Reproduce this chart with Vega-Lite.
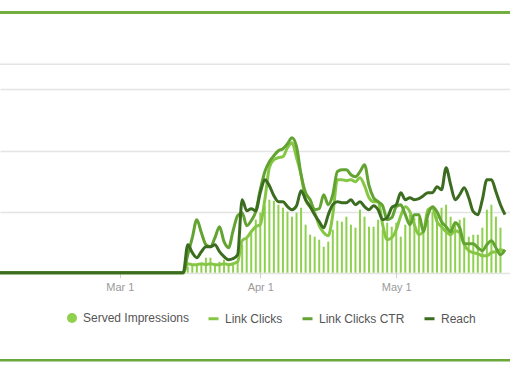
{
  "$schema": "https://vega.github.io/schema/vega-lite/v6.json",
  "width": 510,
  "height": 382,
  "padding": 0,
  "autosize": {"type": "none"},
  "background": "white",
  "config": {
    "view": {"stroke": null},
    "font": "Liberation Sans",
    "axisY": {
      "labels": false,
      "ticks": false,
      "domain": false,
      "grid": true,
      "gridColor": "#e4e4e4",
      "gridWidth": 1.5
    },
    "axisX": {
      "domain": false,
      "grid": false,
      "tickColor": "#d0d0d0",
      "tickSize": 5,
      "labelColor": "#9a9a9a",
      "labelFontSize": 11,
      "labelFont": "Liberation Sans",
      "labelPadding": 4
    }
  },
  "datasets": {
    "metrics": [
      {"date": "2016-02-01", "Served Impressions": null, "Link Clicks": 0, "Link Clicks CTR": 0, "Reach": 0},
      {"date": "2016-03-15", "Served Impressions": 0, "Link Clicks": 0, "Link Clicks CTR": 0, "Reach": 0},
      {"date": "2016-03-16", "Served Impressions": 6, "Link Clicks": 9, "Link Clicks CTR": 18, "Reach": 28},
      {"date": "2016-03-17", "Served Impressions": 7, "Link Clicks": 8, "Link Clicks CTR": 35, "Reach": 20},
      {"date": "2016-03-18", "Served Impressions": 8, "Link Clicks": 8, "Link Clicks CTR": 53, "Reach": 15},
      {"date": "2016-03-19", "Served Impressions": 9, "Link Clicks": 9, "Link Clicks CTR": 40, "Reach": 21},
      {"date": "2016-03-20", "Served Impressions": 15, "Link Clicks": 8, "Link Clicks CTR": 28, "Reach": 26},
      {"date": "2016-03-21", "Served Impressions": 15, "Link Clicks": 9, "Link Clicks CTR": 26, "Reach": 26},
      {"date": "2016-03-22", "Served Impressions": 9, "Link Clicks": 8, "Link Clicks CTR": 35, "Reach": 28},
      {"date": "2016-03-23", "Served Impressions": 11, "Link Clicks": 8, "Link Clicks CTR": 46, "Reach": 21},
      {"date": "2016-03-24", "Served Impressions": 13, "Link Clicks": 9, "Link Clicks CTR": 31, "Reach": 16},
      {"date": "2016-03-25", "Served Impressions": 9, "Link Clicks": 8, "Link Clicks CTR": 25, "Reach": 13},
      {"date": "2016-03-26", "Served Impressions": 9, "Link Clicks": 9, "Link Clicks CTR": 42, "Reach": 14},
      {"date": "2016-03-27", "Served Impressions": 11, "Link Clicks": 11, "Link Clicks CTR": 57, "Reach": 18},
      {"date": "2016-03-28", "Served Impressions": 28, "Link Clicks": 32, "Link Clicks CTR": 60, "Reach": 73},
      {"date": "2016-03-29", "Served Impressions": 35, "Link Clicks": 35, "Link Clicks CTR": 47, "Reach": 62},
      {"date": "2016-03-30", "Served Impressions": 40, "Link Clicks": 41, "Link Clicks CTR": 52, "Reach": 64},
      {"date": "2016-03-31", "Served Impressions": 53, "Link Clicks": 46, "Link Clicks CTR": 61, "Reach": 62},
      {"date": "2016-04-01", "Served Impressions": 60, "Link Clicks": 48, "Link Clicks CTR": 83, "Reach": 80},
      {"date": "2016-04-02", "Served Impressions": 67, "Link Clicks": 73, "Link Clicks CTR": 101, "Reach": 93},
      {"date": "2016-04-03", "Served Impressions": 73, "Link Clicks": 105, "Link Clicks CTR": 111, "Reach": 87},
      {"date": "2016-04-04", "Served Impressions": 72, "Link Clicks": 113, "Link Clicks CTR": 117, "Reach": 77},
      {"date": "2016-04-05", "Served Impressions": 68, "Link Clicks": 115, "Link Clicks CTR": 122, "Reach": 71},
      {"date": "2016-04-06", "Served Impressions": 65, "Link Clicks": 116, "Link Clicks CTR": 124, "Reach": 71},
      {"date": "2016-04-07", "Served Impressions": 61, "Link Clicks": 125, "Link Clicks CTR": 129, "Reach": 66},
      {"date": "2016-04-08", "Served Impressions": 56, "Link Clicks": 130, "Link Clicks CTR": 135, "Reach": 63},
      {"date": "2016-04-09", "Served Impressions": 60, "Link Clicks": 115, "Link Clicks CTR": 126, "Reach": 67},
      {"date": "2016-04-10", "Served Impressions": 65, "Link Clicks": 98, "Link Clicks CTR": 98, "Reach": 82},
      {"date": "2016-04-11", "Served Impressions": 48, "Link Clicks": 73, "Link Clicks CTR": 80, "Reach": 73},
      {"date": "2016-04-12", "Served Impressions": 38, "Link Clicks": 66, "Link Clicks CTR": 73, "Reach": 66},
      {"date": "2016-04-13", "Served Impressions": 36, "Link Clicks": 60, "Link Clicks CTR": 63, "Reach": 58},
      {"date": "2016-04-14", "Served Impressions": 33, "Link Clicks": 47, "Link Clicks CTR": 64, "Reach": 51},
      {"date": "2016-04-15", "Served Impressions": 26, "Link Clicks": 40, "Link Clicks CTR": 78, "Reach": 45},
      {"date": "2016-04-16", "Served Impressions": 31, "Link Clicks": 37, "Link Clicks CTR": 68, "Reach": 58},
      {"date": "2016-04-17", "Served Impressions": 43, "Link Clicks": 58, "Link Clicks CTR": 78, "Reach": 68},
      {"date": "2016-04-18", "Served Impressions": 52, "Link Clicks": 93, "Link Clicks CTR": 101, "Reach": 71},
      {"date": "2016-04-19", "Served Impressions": 51, "Link Clicks": 93, "Link Clicks CTR": 103, "Reach": 70},
      {"date": "2016-04-20", "Served Impressions": 56, "Link Clicks": 92, "Link Clicks CTR": 103, "Reach": 70},
      {"date": "2016-04-21", "Served Impressions": 48, "Link Clicks": 93, "Link Clicks CTR": 98, "Reach": 73},
      {"date": "2016-04-22", "Served Impressions": 45, "Link Clicks": 91, "Link Clicks CTR": 96, "Reach": 68},
      {"date": "2016-04-23", "Served Impressions": 63, "Link Clicks": 95, "Link Clicks CTR": 101, "Reach": 71},
      {"date": "2016-04-24", "Served Impressions": 56, "Link Clicks": 87, "Link Clicks CTR": 108, "Reach": 66},
      {"date": "2016-04-25", "Served Impressions": 46, "Link Clicks": 75, "Link Clicks CTR": 87, "Reach": 63},
      {"date": "2016-04-26", "Served Impressions": 46, "Link Clicks": 71, "Link Clicks CTR": 75, "Reach": 67},
      {"date": "2016-04-27", "Served Impressions": 53, "Link Clicks": 71, "Link Clicks CTR": 71, "Reach": 63},
      {"date": "2016-04-28", "Served Impressions": 43, "Link Clicks": 48, "Link Clicks CTR": 67, "Reach": 53},
      {"date": "2016-04-29", "Served Impressions": 50, "Link Clicks": 33, "Link Clicks CTR": 53, "Reach": 55},
      {"date": "2016-04-30", "Served Impressions": 46, "Link Clicks": 35, "Link Clicks CTR": 55, "Reach": 65},
      {"date": "2016-05-01", "Served Impressions": 50, "Link Clicks": 43, "Link Clicks CTR": 66, "Reach": 68},
      {"date": "2016-05-02", "Served Impressions": 36, "Link Clicks": 57, "Link Clicks CTR": 68, "Reach": 80},
      {"date": "2016-05-03", "Served Impressions": 48, "Link Clicks": 66, "Link Clicks CTR": 58, "Reach": 73},
      {"date": "2016-05-04", "Served Impressions": 58, "Link Clicks": 61, "Link Clicks CTR": 48, "Reach": 75},
      {"date": "2016-05-05", "Served Impressions": 55, "Link Clicks": 48, "Link Clicks CTR": 58, "Reach": 73},
      {"date": "2016-05-06", "Served Impressions": 55, "Link Clicks": 38, "Link Clicks CTR": 58, "Reach": 74},
      {"date": "2016-05-07", "Served Impressions": 43, "Link Clicks": 41, "Link Clicks CTR": 41, "Reach": 77},
      {"date": "2016-05-08", "Served Impressions": 53, "Link Clicks": 63, "Link Clicks CTR": 58, "Reach": 80},
      {"date": "2016-05-09", "Served Impressions": 61, "Link Clicks": 65, "Link Clicks CTR": 66, "Reach": 80},
      {"date": "2016-05-10", "Served Impressions": 56, "Link Clicks": 51, "Link Clicks CTR": 61, "Reach": 86},
      {"date": "2016-05-11", "Served Impressions": 65, "Link Clicks": 46, "Link Clicks CTR": 51, "Reach": 83},
      {"date": "2016-05-12", "Served Impressions": 68, "Link Clicks": 41, "Link Clicks CTR": 46, "Reach": 105},
      {"date": "2016-05-13", "Served Impressions": 56, "Link Clicks": 38, "Link Clicks CTR": 41, "Reach": 88},
      {"date": "2016-05-14", "Served Impressions": 51, "Link Clicks": 42, "Link Clicks CTR": 50, "Reach": 73},
      {"date": "2016-05-15", "Served Impressions": 53, "Link Clicks": 40, "Link Clicks CTR": 45, "Reach": 78},
      {"date": "2016-05-16", "Served Impressions": 55, "Link Clicks": 28, "Link Clicks CTR": 29, "Reach": 85},
      {"date": "2016-05-17", "Served Impressions": 36, "Link Clicks": 22, "Link Clicks CTR": 29, "Reach": 75},
      {"date": "2016-05-18", "Served Impressions": 38, "Link Clicks": 20, "Link Clicks CTR": 29, "Reach": 61},
      {"date": "2016-05-19", "Served Impressions": 38, "Link Clicks": 19, "Link Clicks CTR": 25, "Reach": 58},
      {"date": "2016-05-20", "Served Impressions": 45, "Link Clicks": 17, "Link Clicks CTR": 22, "Reach": 73},
      {"date": "2016-05-21", "Served Impressions": 63, "Link Clicks": 17, "Link Clicks CTR": 28, "Reach": 93},
      {"date": "2016-05-22", "Served Impressions": 68, "Link Clicks": 20, "Link Clicks CTR": 32, "Reach": 93},
      {"date": "2016-05-23", "Served Impressions": 56, "Link Clicks": 21, "Link Clicks CTR": 25, "Reach": 81},
      {"date": "2016-05-24", "Served Impressions": 45, "Link Clicks": 23, "Link Clicks CTR": 18, "Reach": 68},
      {"date": "2016-05-25", "Served Impressions": null, "Link Clicks": 21, "Link Clicks CTR": 23, "Reach": 58}
    ]
  },
  "layer": [
    {
      "data": {"values": [{}]},
      "mark": {"type": "rule", "color": "#e4e4e4", "strokeWidth": 1.5},
      "encoding": {
        "y": {
          "datum": 208.4,
          "type": "quantitative",
          "scale": {"domain": [-109.3, 272.7], "nice": false, "zero": false},
          "axis": {"title": null, "values": [0, 61, 122, 184]}
        }
      }
    },
    {
      "data": {"name": "metrics"},
      "transform": [{"fold": ["Served Impressions"], "as": ["metric", "value"]}],
      "mark": {"type": "bar", "width": 2, "clip": true},
      "encoding": {
        "x": {
          "field": "date",
          "type": "temporal",
          "scale": {
            "type": "utc",
            "domain": [
              {"year": 2016, "month": 2, "date": 4, "hours": 16, "utc": true},
              {"year": 2016, "month": 5, "date": 25, "utc": true}
            ]
          },
          "axis": {
            "title": null,
            "values": [
              {"year": 2016, "month": 3, "date": 1, "utc": true},
              {"year": 2016, "month": 4, "date": 1, "utc": true},
              {"year": 2016, "month": 5, "date": 1, "utc": true}
            ],
            "format": "%b %-d",
            "offset": -109.3
          }
        },
        "y": {
          "field": "value",
          "type": "quantitative",
          "axis": {"title": null, "values": [0, 61, 122, 184]}
        },
        "fill": {
          "field": "metric",
          "type": "nominal",
          "scale": {"domain": ["Served Impressions"], "range": ["#8fd14f"]},
          "legend": {
            "orient": "none",
            "legendX": 66,
            "legendY": 312,
            "direction": "horizontal",
            "title": null,
            "symbolType": "circle",
            "symbolSize": 100,
            "symbolStrokeWidth": 0,
            "labelFontSize": 12,
            "labelColor": "#555555",
            "labelFont": "Liberation Sans",
            "labelOffset": 5,
            "padding": 0
          }
        }
      }
    },
    {
      "data": {"name": "metrics"},
      "transform": [{"fold": ["Link Clicks", "Link Clicks CTR", "Reach"], "as": ["metric", "value"]}],
      "mark": {"type": "line", "interpolate": "monotone", "strokeWidth": 3, "clip": true},
      "encoding": {
        "x": {
          "field": "date",
          "type": "temporal",
          "axis": {
            "title": null,
            "values": [
              {"year": 2016, "month": 3, "date": 1, "utc": true},
              {"year": 2016, "month": 4, "date": 1, "utc": true},
              {"year": 2016, "month": 5, "date": 1, "utc": true}
            ],
            "format": "%b %-d",
            "offset": -109.3
          }
        },
        "y": {
          "field": "value",
          "type": "quantitative",
          "axis": {"title": null, "values": [0, 61, 122, 184]}
        },
        "stroke": {
          "field": "metric",
          "type": "nominal",
          "scale": {
            "domain": ["Link Clicks", "Link Clicks CTR", "Reach"],
            "range": ["#86c645", "#62a332", "#3b6c20"]
          },
          "legend": {
            "orient": "none",
            "legendX": 207,
            "legendY": 312,
            "direction": "horizontal",
            "title": null,
            "symbolType": "stroke",
            "symbolSize": 100,
            "symbolStrokeWidth": 3,
            "labelFontSize": 12,
            "labelColor": "#555555",
            "labelFont": "Liberation Sans",
            "labelOffset": 5,
            "columnPadding": 13,
            "padding": 0
          }
        }
      }
    },
    {
      "data": {"values": [{}]},
      "mark": {"type": "rule", "color": "#74ae40", "strokeWidth": 3},
      "encoding": {
        "y": {"datum": 260.2, "type": "quantitative", "axis": {"title": null, "values": [0, 61, 122, 184]}}
      }
    },
    {
      "data": {"values": [{}]},
      "mark": {"type": "rule", "color": "#6ba83a", "strokeWidth": 2.5},
      "encoding": {
        "y": {"datum": -87.5, "type": "quantitative", "axis": {"title": null, "values": [0, 61, 122, 184]}}
      }
    }
  ]
}
